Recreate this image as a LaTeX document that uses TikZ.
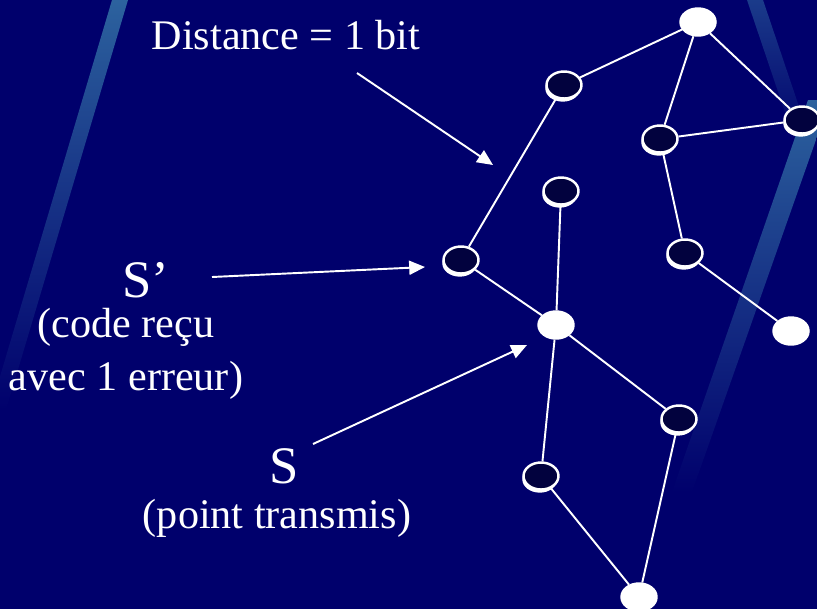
\documentclass[tikz,border=0pt]{standalone}
\usepackage{fontspec}
\setmainfont{Liberation Serif}
\usetikzlibrary{arrows.meta,shapes.geometric,shadows}

\definecolor{slidebg}{RGB}{0,0,108}
\definecolor{nodedark}{RGB}{2,2,62}
\definecolor{streak}{RGB}{44,98,158}

\begin{document}
\begin{tikzpicture}[
  x=0.02cm, y=-0.02cm,
  vtx/.style={ellipse, draw=white, line width=1.4pt, inner sep=0pt,
    minimum width=0.7cm, minimum height=0.54cm},
  full/.style={vtx, fill=white},
  hollow/.style={vtx, fill=nodedark,
    drop shadow={shadow xshift=-0.7pt, shadow yshift=-1.8pt, fill=white, opacity=1}},
  link/.style={white, line width=1.1pt},
  pointer/.style={white, line width=1.1pt, -{Triangle[length=9pt,width=8pt]}},
  lbl/.style={text=white, font=\fontsize{24}{30.5}\selectfont, align=center, inner sep=0pt},
  biglbl/.style={text=white, font=\fontsize{30}{36}\selectfont, inner sep=0pt}
]
  \useasboundingbox (0,0) rectangle (817,609);
  \clip (0,0) rectangle (817,609);

  % slide background and its streaks
  \fill[slidebg] (0,0) rectangle (817,609);
  \shade[top color=streak, bottom color=slidebg]
    (112,0) -- (128,0) -- (6,410) -- (-10,410) -- cycle;
  \shade[top color=streak!60!slidebg, bottom color=slidebg]
    (747,0) -- (763,0) -- (812,145) -- (796,145) -- cycle;
  \shade[top color=streak, bottom color=slidebg]
    (808,100) -- (830,100) -- (692,492) -- (672,492) -- cycle;

  % code points
  \node[full]   (a)  at (698,22)  {};
  \node[hollow] (b)  at (564,85)  {};
  \node[hollow] (c)  at (660,139) {};
  \node[hollow] (d)  at (802,120) {};
  \node[hollow] (e)  at (561,191) {};
  \node[hollow] (sp) at (461,260) {};
  \node[hollow] (g)  at (685,253) {};
  \node[full]   (s)  at (556,325) {};
  \node[full]   (i)  at (791,331) {};
  \node[hollow] (j)  at (679,419) {};
  \node[hollow] (k)  at (541,476) {};
  \node[full]   (l)  at (639,597) {};

  % one-bit neighbours
  \draw[link] (a) -- (b);
  \draw[link] (a) -- (c);
  \draw[link] (a) -- (d);
  \draw[link] (c) -- (d);
  \draw[link] (c) -- (g);
  \draw[link] (g) -- (i);
  \draw[link] (b) -- (sp);
  \draw[link] (sp) -- (s);
  \draw[link] (e) -- (s);
  \draw[link] (s) -- (j);
  \draw[link] (s) -- (k);
  \draw[link] (k) -- (l);
  \draw[link] (j) -- (l);

  % labels
  \node[lbl, anchor=base] (dist) at (286,49) {Distance = 1 bit};
  \node[biglbl, anchor=base] (lblSp) at (146,297) {S’};
  \node[lbl] (noteSp) at (126,354) {(code reçu\\avec 1 erreur)};
  \node[biglbl, anchor=base] (lblS) at (284,483) {S};
  \node[lbl, anchor=base] (noteS) at (277,528) {(point transmis)};

  % pointers
  \coordinate (distTail) at (357,73);
  \coordinate (distHead) at (493,165);
  \coordinate (spTail) at (212,277);
  \coordinate (spHead) at (425,267);
  \coordinate (sTail) at (313,444);
  \coordinate (sHead) at (527,345);
  \draw[pointer] (distTail) -- (distHead);
  \draw[pointer] (spTail) -- (spHead);
  \draw[pointer] (sTail) -- (sHead);
\end{tikzpicture}
\end{document}
